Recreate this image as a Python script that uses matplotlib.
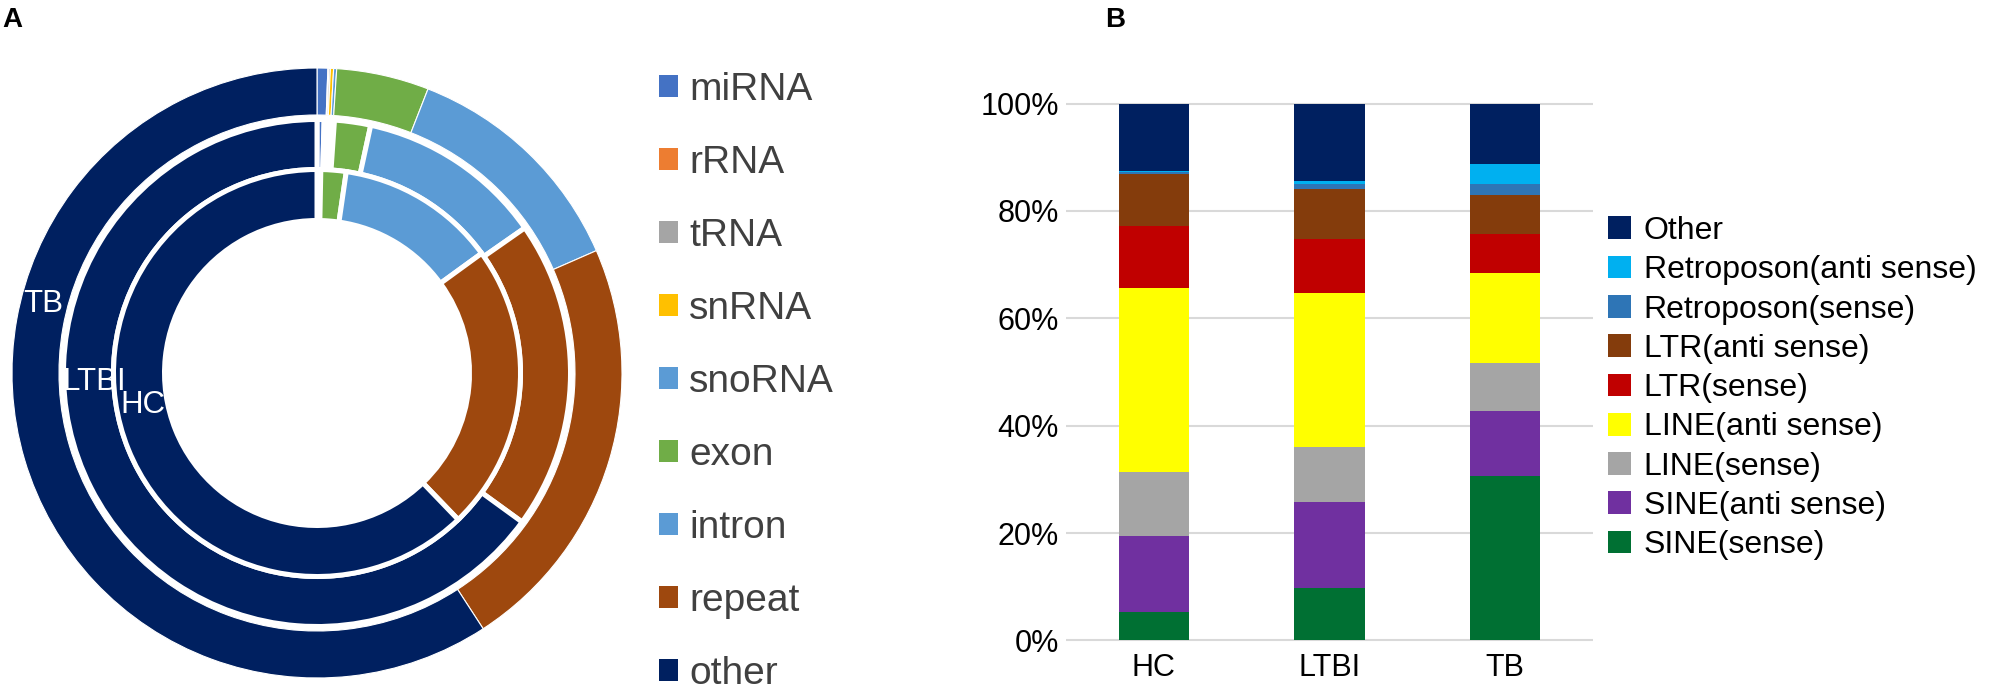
import matplotlib
matplotlib.use('Agg')
import matplotlib.pyplot as plt
from matplotlib.patches import Patch

plt.rcParams['font.family'] = ['Liberation Sans', 'DejaVu Sans']

# Panel A - doughnut, share of reads by RNA class (%)
rna_classes = ['miRNA', 'rRNA', 'tRNA', 'snRNA', 'snoRNA', 'exon', 'intron', 'repeat', 'other']
rna_colors = ['#4472C4', '#ED7D31', '#A5A5A5', '#FFC000', '#5B9BD5', '#70AD47', '#5B9BD5', '#9E480E', '#002060']
hc_share = [0.15, 0.02, 0.05, 0.03, 0.05, 2.0, 12.7, 22.8, 62.2]
ltbi_share = [0.45, 0.05, 0.1, 0.2, 0.3, 2.3, 11.9, 19.7, 65.0]
tb_share = [0.57, 0.05, 0.08, 0.17, 0.16, 4.9, 12.5, 22.4, 59.17]

# Panel B - stacked bars, repeat element composition (%)
groups = ['HC', 'LTBI', 'TB']
repeat_types = ['SINE(sense)', 'SINE(anti sense)', 'LINE(sense)', 'LINE(anti sense)',
                'LTR(sense)', 'LTR(anti sense)', 'Retroposon(sense)', 'Retroposon(anti sense)', 'Other']
repeat_colors = ['#007033', '#7030A0', '#A5A5A5', '#FFFF00', '#C00000', '#843C0C', '#2E75B6', '#00B0F0', '#002060']
sine_s = [5.3, 9.8, 30.6]
sine_a = [14.1, 15.9, 12.2]
line_s = [11.9, 10.4, 8.9]
line_a = [34.3, 28.7, 16.8]
ltr_s = [11.6, 10.0, 7.2]
ltr_a = [9.7, 9.3, 7.3]
retro_s = [0.35, 0.9, 2.0]
retro_a = [0.2, 0.6, 3.7]
other = [12.55, 14.4, 11.3]
repeat_data = [sine_s, sine_a, line_s, line_a, ltr_s, ltr_a, retro_s, retro_a, other]

W, H = 1991, 689
fig = plt.figure(figsize=(W / 100, H / 100), dpi=100)

# ---- A ----
cx, cy, half = 317, 373, 310
ax1 = fig.add_axes([(cx - half) / W, (H - cy - half) / H, 2 * half / W, 2 * half / H])
rings = [(tb_share, 305, 47, 0.8), (ltbi_share, 253.5, 50, 3.6), (hc_share, 203.5, 51, 3.6)]
for share, r, w, lw in rings:
    ax1.pie(share, radius=r, startangle=90, counterclock=False, colors=rna_colors,
            wedgeprops=dict(width=w, edgecolor='white', linewidth=lw))
ax1.set_xlim(-half, half)
ax1.set_ylim(-half, half)
ax1.set_aspect('equal')
ax1.axis('off')
for name, x, y in [('TB', -274, 61), ('LTBI', -223, -17), ('HC', -174, -40)]:
    ax1.text(x, y, name, color='white', fontsize=22.5, ha='center', va='baseline')

handles_a = [Patch(facecolor=c, edgecolor='none') for c in rna_colors]
fig.legend(handles_a, rna_classes, loc='upper left', bbox_to_anchor=(659 / W, 1 - 72 / H),
           frameon=False, fontsize=28, labelcolor='#404040', handlelength=0.49, handleheight=0.49,
           handletextpad=0.28, labelspacing=0.95, borderpad=0, borderaxespad=0)

# ---- B ----
ax2 = fig.add_axes([1066 / W, (H - 642) / H, 527 / W, 540 / H])
x = range(len(groups))
bottom = [0, 0, 0]
bars = []
for vals, col, lab in zip(repeat_data, repeat_colors, repeat_types):
    b = ax2.bar(x, vals, bottom=bottom, width=0.4, color=col, label=lab, zorder=3)
    bars.append(b)
    bottom = [bt + v for bt, v in zip(bottom, vals)]
ax2.set_xlim(-0.5, 2.5)
ax2.set_yticks([0, 20, 40, 60, 80, 100])
ax2.set_yticklabels(['0%', '20%', '40%', '60%', '80%', '100%'])
ax2.set_xticks(list(x))
ax2.set_xticklabels(groups)
ax2.tick_params(axis='both', length=0, labelsize=22)
ax2.tick_params(axis='y', pad=5)
ax2.tick_params(axis='x', pad=8)
ax2.grid(axis='y', color='#D9D9D9', linewidth=1.5, zorder=0)
for s in ax2.spines.values():
    s.set_visible(False)
ax2.set_ylim(-0.3, 100.3)

fig.legend(bars[::-1], repeat_types[::-1], loc='upper left', bbox_to_anchor=(1608 / W, 1 - 216 / H),
           frameon=False, fontsize=23, handlelength=0.72, handleheight=0.72,
           handletextpad=0.4, labelspacing=0.29, borderpad=0, borderaxespad=0)

fig.text(2 / W, 1 - 7 / H, 'A', fontsize=20, fontweight='bold', va='top', ha='left')
fig.text(1105 / W, 1 - 7 / H, 'B', fontsize=20, fontweight='bold', va='top', ha='left')

fig.savefig('out.png', dpi=100)
